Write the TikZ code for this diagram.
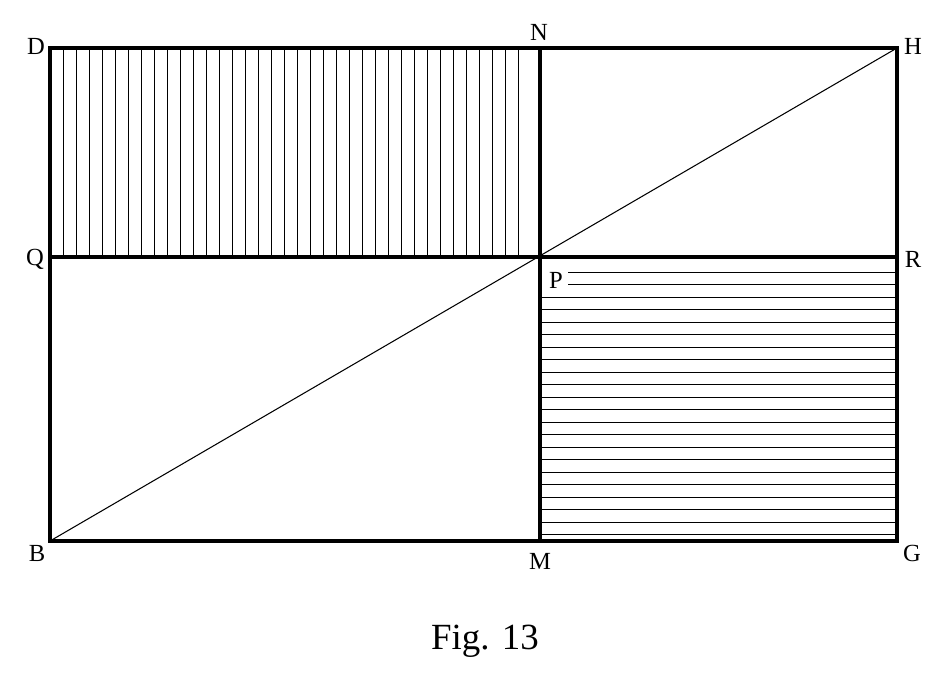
\documentclass[tikz,border=0pt]{standalone}
\usepackage{fontspec}
\setmainfont{Liberation Serif}
\begin{document}
\begin{tikzpicture}[x=0.02cm,y=-0.02cm,
    frame/.style={line width=2.4pt},
    hatch/.style={line width=0.5pt},
    lbl/.style={font=\fontsize{14}{16}\selectfont}]
		\useasboundingbox (0,0) rectangle (935,690);
		% Points
		\coordinate (D) at (50,48);
		\coordinate (N) at (540,48);
		\coordinate (H) at (897,48);
		\coordinate (Q) at (50,257);
		\coordinate (P) at (540,257);
		\coordinate (R) at (897,257);
		\coordinate (B) at (50,541);
		\coordinate (M) at (540,541);
		\coordinate (G) at (897,541);
		
		% Hatching
		\foreach \x in {63,76,...,530}
			\draw[hatch] (\x,48) -- (\x,257);
		\foreach \y in {272,284.5,297,...,536}
			\draw[hatch] ({\y<290 ? 568 : 540},\y) -- (897,\y);
		
		% Frame and diagonal
		\draw[frame] (D) rectangle (G);
		\draw[frame] (N) -- (M);
		\draw[frame] (Q) -- (R);
		\draw[line width=0.6pt] (B) -- (H);
		
		% Labels
		\node[lbl] (lD) at (36,46) {D};
		\node[lbl] (lN) at (539,32) {N};
		\node[lbl] (lH) at (913,46) {H};
		\node[lbl] (lQ) at (35,259) {Q};
		\node[lbl,fill=white,inner sep=1pt] (lP) at (556,280) {P};
		\node[lbl] (lR) at (913,259) {R};
		\node[lbl] (lB) at (37,553) {B};
		\node[lbl] (lM) at (540,561) {M};
		\node[lbl] (lG) at (912,553) {G};
		\node[font=\fontsize{21}{24}\selectfont] (cap) at (485,641) {Fig. 13};
	\end{tikzpicture}
\end{document}
